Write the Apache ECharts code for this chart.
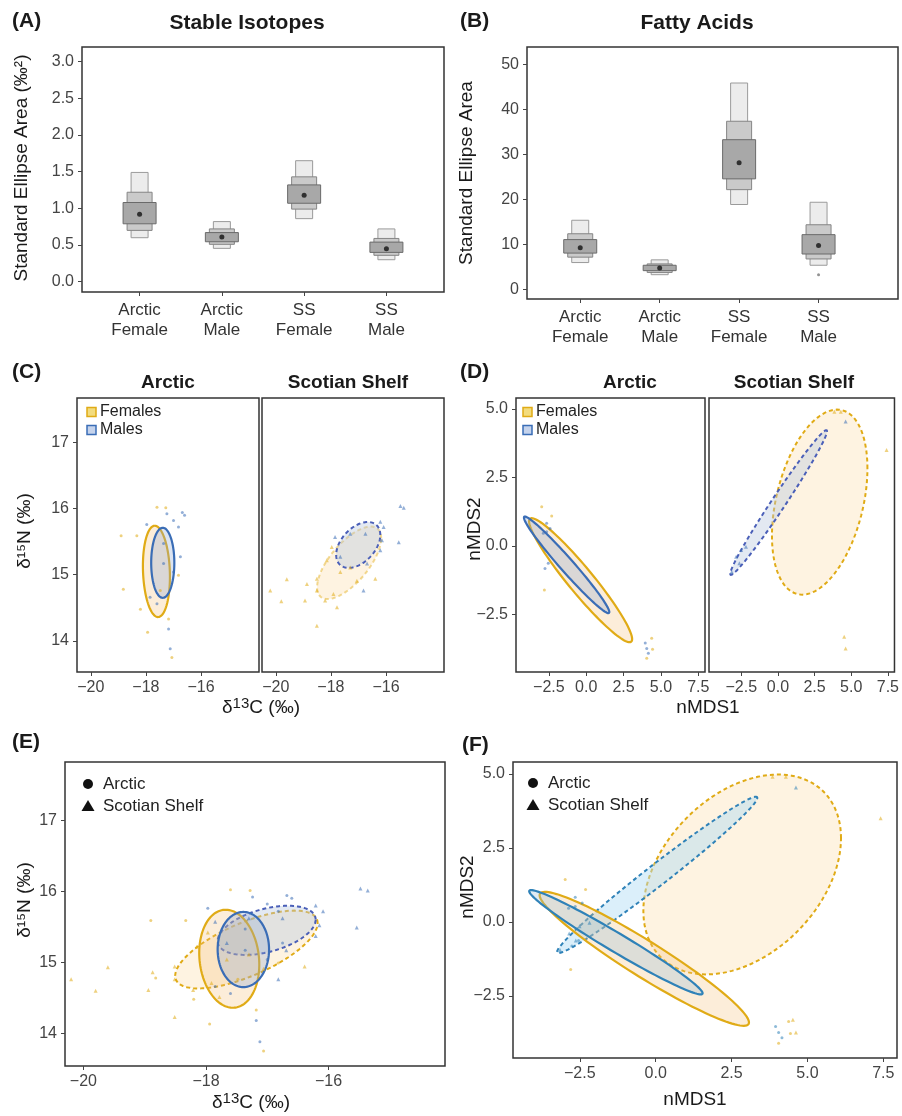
<!DOCTYPE html>
<html>
<head>
<meta charset="utf-8">
<script src="https://cdn.jsdelivr.net/npm/echarts@6/dist/echarts.min.js"></script>
<style>
  html, body { margin: 0; background: #fff; }
  #chart { width: 902px; height: 1116px; }
</style>
</head>
<body>
<div id="chart"></div>
<script>
// ---- data ----
const groups = ['Arctic\nFemale', 'Arctic\nMale', 'SS\nFemale', 'SS\nMale'];

// Bayesian SEA credible intervals per group: [lo95, hi95, lo75, hi75, lo50, hi50]
const seaSI = [
  [0.60, 1.49, 0.70, 1.22, 0.79, 1.08],
  [0.455, 0.82, 0.51, 0.72, 0.545, 0.67],
  [0.86, 1.65, 0.99, 1.43, 1.07, 1.32],
  [0.30, 0.72, 0.36, 0.59, 0.40, 0.54]
];
const seaSIMode = [0.92, 0.61, 1.18, 0.45];

const seaFA = [
  [5.9, 15.3, 7.1, 12.3, 8.0, 11.0],
  [3.2, 6.5, 3.7, 5.6, 4.1, 5.3],
  [18.8, 45.8, 22.1, 37.3, 24.5, 33.2],
  [5.3, 19.3, 6.7, 14.3, 7.8, 12.1]
];
const seaFAMode = [9.2, 4.7, 28.1, 9.7];
const seaFAOutlier = [[4, 3.2]];

// standard ellipses: [meanX, meanY, varX, varY, covXY]
const siEllArcticF = [-17.62, 15.05, 0.24, 0.476, -0.04];
const siEllArcticM = [-17.39, 15.18, 0.176, 0.28, 0.0];
const siEllSSF = [-17.34, 15.18, 1.35, 0.30, 0.43];
const siEllSSM = [-17.01, 15.45, 0.64, 0.12, 0.12];

const faEllArcticF = [-0.375, -1.25, 11.89, 5.12, -7.41];
const faEllArcticM = [-1.31, -0.69, 8.157, 3.103, -4.92];
const faEllSSF = [2.85, 1.6, 10.6, 11.4, 4.0];
const faEllSSM = [0.05, 1.585, 10.88, 6.97, 8.58];

// individual samples (d13C, d15N)
const siArcticF = [[-18.33, 15.59], [-18.82, 14.78], [-18.2, 14.48], [-17.94, 14.13], [-16.82, 14.99],
  [-17.6, 16.02], [-18.9, 15.59], [-17.18, 14.33], [-17.06, 13.75], [-17.48, 14.76], [-17.28, 16.01]];
const siArcticM = [[-17.97, 15.76], [-17.85, 14.66], [-17.6, 14.56], [-17.36, 15.47], [-17.36, 15.17],
  [-17.0, 15.04], [-16.75, 15.27], [-17.0, 15.82], [-16.82, 15.72], [-17.24, 15.92], [-16.6, 15.9],
  [-17.18, 14.18], [-17.12, 13.88], [-16.68, 15.94]];
const siSSF = [[-17.97, 15.42], [-18.15, 15.22], [-17.66, 15.04], [-17.06, 14.91], [-18.51, 14.94],
  [-18.87, 14.86], [-18.51, 14.76], [-18.94, 14.61], [-18.21, 14.61], [-17.91, 14.71], [-17.78, 14.51],
  [-18.51, 14.23], [-20.2, 14.76], [-16.39, 14.94], [-17.3, 15.11], [-19.8, 14.6], [-19.6, 14.93]];
const siSSM = [[-15.36, 16.01], [-16.21, 15.8], [-16.09, 15.72], [-15.54, 15.49], [-17.85, 15.57],
  [-17.3, 15.62], [-16.75, 15.62], [-16.15, 15.52], [-16.21, 15.37], [-16.69, 15.17], [-17.66, 15.27],
  [-16.82, 14.76], [-15.48, 16.04]];

// individual samples (nMDS1, nMDS2)
const faArcticF = [[-2.98, 1.43], [-2.31, 1.09], [4.05, -4.1], [4.44, -3.77], [4.38, -3.37], [-2.8, -1.61]];
const faArcticM = [[-2.65, 0.83], [-2.87, 0.46], [-2.65, 0.52], [-2.42, 0.64], [-2.54, -0.63],
  [-2.76, -0.82], [4.05, -3.74], [4.16, -3.92], [3.95, -3.54]];
const faSSF = [[3.85, 4.9], [4.29, 4.9], [4.52, -3.31], [4.62, -3.74], [7.41, 3.5]];
const faSSM = [[-2.51, -0.15], [-2.85, -0.39], [-2.18, -0.03], [-2.63, -0.63], [4.62, 4.54], [-3.15, -0.95]];

// tick values
const siaTicks = [0, 0.5, 1, 1.5, 2, 2.5, 3];
const faTicks = [0, 10, 20, 30, 40, 50];
const d13Ticks = [-20, -18, -16];
const d15Ticks = [14, 15, 16, 17];
const nmdsXTicks = [-2.5, 0, 2.5, 5, 7.5];
const nmdsYTicks = [-2.5, 0, 2.5, 5];

// ---- styling ----
const FONT = 'Liberation Sans, Arial, sans-serif';
const YEL = '#e0ab16';
const BLU = '#3a6db6';
const minus = (s) => String(s).replace('-', '\u2212');

const grids = [
  { left: 82, top: 47, width: 362, height: 245 },   // A
  { left: 527, top: 47, width: 371, height: 252 },  // B
  { left: 77, top: 398, width: 182, height: 274 },  // C arctic
  { left: 262, top: 398, width: 182, height: 274 }, // C scotian shelf
  { left: 516, top: 398, width: 189, height: 274 }, // D arctic
  { left: 709, top: 398, width: 189, height: 274 }, // D scotian shelf
  { left: 65, top: 762, width: 380, height: 304 },  // E
  { left: 513, top: 762, width: 384, height: 296 }  // F
].map((g) => Object.assign({ show: true, borderColor: '#333', borderWidth: 1.5, backgroundColor: '#fff' }, g));

function axis(gridIndex, min, max, ticks, fmt, extra) {
  return Object.assign({
    type: 'value', gridIndex, min, max,
    splitLine: { show: false },
    axisLine: { show: false, onZero: false },
    axisTick: { show: true, length: 4, customValues: ticks, lineStyle: { color: '#444' } },
    axisLabel: { customValues: ticks, formatter: fmt, color: '#444', fontSize: 16, fontFamily: FONT, margin: 8 }
  }, extra || {});
}
const fix1 = (v) => minus(v.toFixed(1));
const catFmt = (v) => groups[Math.round(v) - 1];
const catLabel = { customValues: [1, 2, 3, 4], formatter: catFmt, color: '#333', fontSize: 17, lineHeight: 20, fontFamily: FONT, margin: 8 };

const xAxes = [
  axis(0, 0.3, 4.7, [1, 2, 3, 4], catFmt, { axisLabel: catLabel }),
  axis(1, 0.33, 5.0, [1, 2, 3, 4], catFmt, { axisLabel: catLabel }),
  axis(2, -20.5, -13.9, d13Ticks, minus),
  axis(3, -20.5, -13.9, d13Ticks, minus),
  axis(4, -4.7, 7.95, nmdsXTicks, fix1),
  axis(5, -4.7, 7.95, nmdsXTicks, fix1),
  axis(6, -20.3, -14.1, d13Ticks, minus),
  axis(7, -4.7, 7.95, nmdsXTicks, fix1)
];
const yAxes = [
  axis(0, -0.14, 3.2, siaTicks, fix1),
  axis(1, -2.2, 53.8, faTicks, (v) => String(v)),
  axis(2, 13.53, 17.67, d15Ticks, (v) => String(v)),
  axis(3, 13.53, 17.67, [], (v) => String(v), { axisTick: { show: false }, axisLabel: { show: false } }),
  axis(4, -4.6, 5.4, nmdsYTicks, fix1),
  axis(5, -4.6, 5.4, [], fix1, { axisTick: { show: false }, axisLabel: { show: false } }),
  axis(6, 13.54, 17.82, d15Ticks, (v) => String(v)),
  axis(7, -4.6, 5.4, nmdsYTicks, fix1)
];

// ---- series builders ----
function boxSeries(idx, rows) {
  const levels = [[1, 2, 17, '#ececec', '#9a9a9a'], [3, 4, 25, '#cacaca', '#858585'], [5, 6, 33, '#a8a8a8', '#6a6a6a']];
  return {
    type: 'custom', xAxisIndex: idx, yAxisIndex: idx,
    data: rows.map((r, i) => [i + 1].concat(r)),
    renderItem: (params, api) => {
      const x = api.value(0);
      return {
        type: 'group',
        children: levels.map(([lo, hi, w, fill, stroke]) => {
          const top = api.coord([x, api.value(hi)]);
          const bot = api.coord([x, api.value(lo)]);
          return { type: 'rect', shape: { x: top[0] - w / 2, y: top[1], width: w, height: bot[1] - top[1] },
            style: { fill, stroke, lineWidth: 1 } };
        })
      };
    }
  };
}
function modeSeries(idx, modes) {
  return { type: 'scatter', xAxisIndex: idx, yAxisIndex: idx, symbolSize: 5, itemStyle: { color: '#111' },
    data: modes.map((v, i) => [i + 1, v]) };
}
function ellipse(idx, ell, stroke, fill, dashed) {
  return {
    type: 'custom', xAxisIndex: idx, yAxisIndex: idx, clip: true, silent: true,
    data: [ell],
    renderItem: (params, api) => {
      const cx = api.value(0), cy = api.value(1);
      const l11 = Math.sqrt(api.value(2));
      const l21 = api.value(4) / l11;
      const l22 = Math.sqrt(api.value(3) - l21 * l21);
      const pts = [];
      for (let i = 0; i < 120; i++) {
        const t = (i / 120) * Math.PI * 2;
        pts.push(api.coord([cx + l11 * Math.cos(t), cy + l21 * Math.cos(t) + l22 * Math.sin(t)]));
      }
      return { type: 'polygon', shape: { points: pts },
        style: { fill, stroke, lineWidth: dashed ? 2 : 2.2, lineDash: dashed ? [4, 3] : null } };
    }
  };
}
function points(idx, data, color, symbol) {
  return { type: 'scatter', xAxisIndex: idx, yAxisIndex: idx, symbol, symbolSize: symbol === 'triangle' ? 4 : 3,
    itemStyle: { color, opacity: 0.55 }, data, silent: true };
}

const fillAF = 'rgba(246,190,120,0.28)', fillAM = 'rgba(140,165,210,0.30)';
const fillSF = 'rgba(252,222,170,0.35)', fillSM = 'rgba(185,200,222,0.40)';
const fillSMteal = 'rgba(175,220,245,0.45)';
const BLU2 = '#2f82b8';

const series = [
  boxSeries(0, seaSI), modeSeries(0, seaSIMode),
  boxSeries(1, seaFA), modeSeries(1, seaFAMode),
  { type: 'scatter', xAxisIndex: 1, yAxisIndex: 1, symbolSize: 3, itemStyle: { color: '#777' }, data: seaFAOutlier },
  // C
  ellipse(2, siEllArcticF, YEL, fillAF, false), ellipse(2, siEllArcticM, BLU, fillAM, false),
  points(2, siArcticF, YEL, 'circle'), points(2, siArcticM, BLU, 'circle'),
  ellipse(3, siEllSSF, 'rgba(226,174,23,0.45)', fillSF, true), ellipse(3, siEllSSM, '#4a5fb8', fillSM, true),
  points(3, siSSF, YEL, 'triangle'), points(3, siSSM, BLU, 'triangle'),
  // D
  ellipse(4, faEllArcticF, YEL, fillAF, false), ellipse(4, faEllArcticM, BLU, fillAM, false),
  points(4, faArcticF, YEL, 'circle'), points(4, faArcticM, BLU, 'circle'),
  ellipse(5, faEllSSF, YEL, fillSF, true), ellipse(5, faEllSSM, '#4a5fb8', fillSM, true),
  points(5, faSSF, YEL, 'triangle'), points(5, faSSM, BLU, 'triangle'),
  // E
  ellipse(6, siEllSSF, YEL, fillSF, true), ellipse(6, siEllSSM, '#4a5fb8', fillSM, true),
  ellipse(6, siEllArcticF, YEL, fillAF, false), ellipse(6, siEllArcticM, BLU, fillAM, false),
  points(6, siArcticF, YEL, 'circle'), points(6, siArcticM, BLU, 'circle'),
  points(6, siSSF, YEL, 'triangle'), points(6, siSSM, BLU, 'triangle'),
  // F
  ellipse(7, faEllSSF, YEL, fillSF, true), ellipse(7, faEllSSM, BLU2, fillSMteal, true),
  ellipse(7, faEllArcticF, YEL, fillAF, false), ellipse(7, faEllArcticM, BLU2, 'rgba(150,190,215,0.30)', false),
  points(7, faArcticF, YEL, 'circle'), points(7, faArcticM, BLU2, 'circle'),
  points(7, faSSF, YEL, 'triangle'), points(7, faSSM, BLU2, 'triangle')
];

// ---- text, titles, legends ----
function txt(text, x, y, size, opts) {
  opts = opts || {};
  return { type: 'text', x, y, rotation: opts.rot || 0, silent: true,
    style: { text, fontSize: size, fontWeight: opts.bold ? 'bold' : 'normal', fontFamily: FONT,
      fill: opts.color || '#1a1a1a', align: opts.align || 'center', verticalAlign: 'middle', rich: opts.rich } };
}
const UP = Math.PI / 2;
const d13Rich = {
  a: { fontSize: 19, fontFamily: FONT, fill: '#1a1a1a' },
  s: { fontSize: 15, fontFamily: FONT, fill: '#1a1a1a', padding: [0, 0, 9, 0] }
};
const d13Label = '{a|\u03b4}{s|13}{a|C (\u2030)}';
const d15Label = '\u03b4\u00b9\u2075N (\u2030)';

function sexKey(x, y, label, stroke, fill) {
  return [
    { type: 'rect', shape: { x, y: y - 4.5, width: 9, height: 9 }, style: { fill, stroke, lineWidth: 1.5 }, silent: true },
    txt(label, x + 13, y, 16, { align: 'left', color: '#222' })
  ];
}
function siteLegend(x, y) {
  return [
    { type: 'circle', shape: { cx: x, cy: y, r: 5 }, style: { fill: '#111' }, silent: true },
    txt('Arctic', x + 15, y, 17, { align: 'left', color: '#222' }),
    { type: 'polygon', shape: { points: [[x, y + 16], [x - 6.5, y + 27], [x + 6.5, y + 27]] }, style: { fill: '#111' }, silent: true },
    txt('Scotian Shelf', x + 15, y + 22, 17, { align: 'left', color: '#222' })
  ];
}

const graphics = [
  txt('(A)', 12, 21, 21, { bold: true, align: 'left' }),
  txt('Stable Isotopes', 247, 23, 21, { bold: true }),
  txt('Standard Ellipse Area (\u2030\u00b2)', 22, 168, 19, { rot: UP }),
  txt('(B)', 460, 21, 21, { bold: true, align: 'left' }),
  txt('Fatty Acids', 697, 23, 21, { bold: true }),
  txt('Standard Ellipse Area', 467, 173, 19, { rot: UP }),

  txt('(C)', 12, 372, 21, { bold: true, align: 'left' }),
  txt('Arctic', 168, 383, 19, { bold: true }),
  txt('Scotian Shelf', 348, 383, 19, { bold: true }),
  txt(d15Label, 25, 531, 19, { rot: UP }),
  txt(d13Label, 261, 708, 19, { rich: d13Rich }),
  ...sexKey(87, 412, 'Females', YEL, '#f3dc7e'),
  ...sexKey(87, 430, 'Males', BLU, '#c5d3ec'),

  txt('(D)', 460, 372, 21, { bold: true, align: 'left' }),
  txt('Arctic', 630, 383, 19, { bold: true }),
  txt('Scotian Shelf', 794, 383, 19, { bold: true }),
  txt('nMDS2', 475, 529, 19, { rot: UP }),
  txt('nMDS1', 708, 708, 19),
  ...sexKey(523, 412, 'Females', YEL, '#f3dc7e'),
  ...sexKey(523, 430, 'Males', BLU, '#c5d3ec'),

  txt('(E)', 12, 742, 21, { bold: true, align: 'left' }),
  txt(d15Label, 25, 900, 19, { rot: UP }),
  txt(d13Label, 251, 1103, 19, { rich: d13Rich }),
  ...siteLegend(88, 784),

  txt('(F)', 462, 745, 21, { bold: true, align: 'left' }),
  txt('nMDS2', 468, 887, 19, { rot: UP }),
  txt('nMDS1', 695, 1100, 19),
  ...siteLegend(533, 783)
];

const chart = echarts.init(document.getElementById('chart'), null, { renderer: 'canvas' });
chart.setOption({
  animation: false,
  backgroundColor: '#fff',
  grid: grids,
  xAxis: xAxes,
  yAxis: yAxes,
  series,
  graphic: { elements: graphics }
});
</script>
</body>
</html>
